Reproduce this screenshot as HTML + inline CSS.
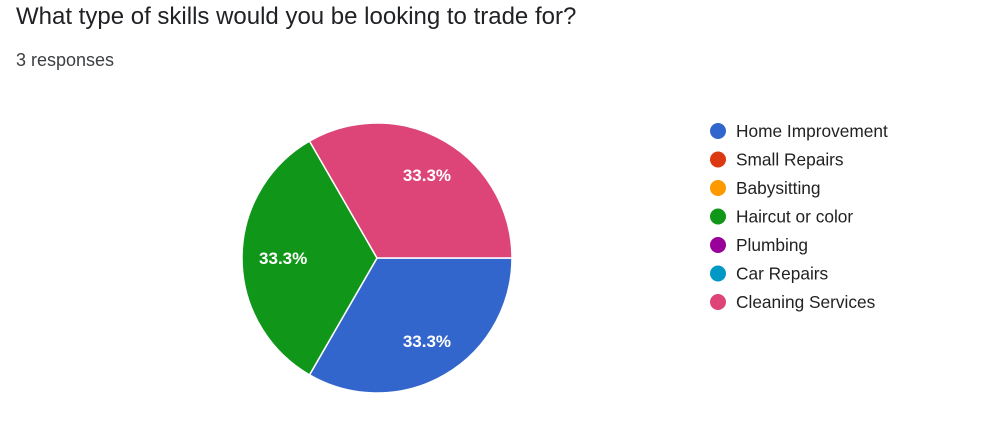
<!DOCTYPE html>
<html><head><meta charset="utf-8"><style>
body{margin:0;width:994px;height:422px;background:#fff;font-family:"Liberation Sans",Arial,sans-serif;overflow:hidden;position:relative}
#title{position:absolute;left:16px;top:3px;font-size:24px;color:#202124}
#sub{position:absolute;left:16px;top:50px;font-size:18px;color:#3c4043}
svg{position:absolute;left:0;top:0}
</style></head><body>
<div id="title">What type of skills would you be looking to trade for?</div>
<div id="sub">3 responses</div>
<svg id="chart" width="994" height="422"></svg>
<script>
const categories=["Home Improvement","Small Repairs","Babysitting","Haircut or color","Plumbing","Car Repairs","Cleaning Services"];
const values=[1,0,0,1,0,0,1];
const colors=["#3366cc","#dc3912","#ff9900","#109618","#990099","#0099c6","#dd4477"];
const NS="http://www.w3.org/2000/svg";
const svg=document.getElementById('chart');
const cx=377,cy=258,r=135,start=90;
const total=values.reduce((a,b)=>a+b,0);
function pt(deg,rad){const a=(deg-90)*Math.PI/180;return [cx+rad*Math.cos(a),cy+rad*Math.sin(a)];}
let ang=start;
values.forEach((v,i)=>{
  if(!v)return;
  const sweep=v/total*360;
  const p1=pt(ang,r),p2=pt(ang+sweep,r);
  const path=document.createElementNS(NS,'path');
  path.setAttribute('d',`M${cx},${cy}L${p1[0]},${p1[1]}A${r},${r} 0 ${sweep>180?1:0} 1 ${p2[0]},${p2[1]}Z`);
  path.setAttribute('fill',colors[i]);path.setAttribute('stroke','#fff');path.setAttribute('stroke-width','1.5');
  
  
  svg.appendChild(path);
  const lp=pt(ang+sweep/2,r*0.71);
  const t=document.createElementNS(NS,'text');
  t.setAttribute('x',lp[0]+2);t.setAttribute('y',lp[1]+6);t.setAttribute('text-anchor','middle');
  t.setAttribute('fill','#fff');t.setAttribute('font-size','17');t.setAttribute('font-weight','bold');
  t.setAttribute('font-family','Liberation Sans, Arial, sans-serif');
  t.textContent=(v/total*100).toFixed(1)+'%';
  
  
  svg.appendChild(t);
  ang+=sweep;
});
categories.forEach((c,i)=>{
  const y=131+i*28.5;
  const g=document.createElementNS(NS,'g');
  
  
  const ci=document.createElementNS(NS,'circle');
  ci.setAttribute('cx',718);ci.setAttribute('cy',y);ci.setAttribute('r',8);ci.setAttribute('fill',colors[i]);
  g.appendChild(ci);
  const t=document.createElementNS(NS,'text');
  t.setAttribute('x',736);t.setAttribute('y',y+6);t.setAttribute('font-size','17.3');t.setAttribute('fill','#222');
  t.setAttribute('font-family','Liberation Sans, Arial, sans-serif');
  t.textContent=c;g.appendChild(t);
  svg.appendChild(g);
});
</script>
</body></html>
